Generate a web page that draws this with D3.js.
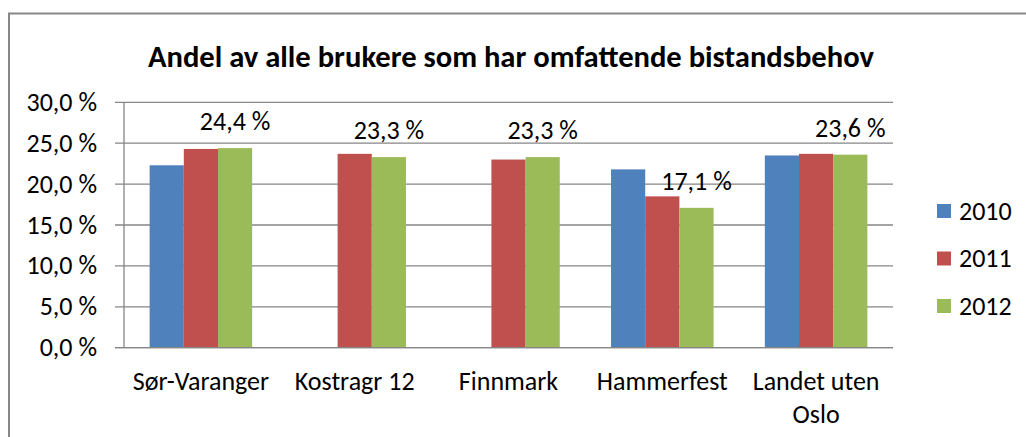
<!DOCTYPE html>
<html>
<head>
<meta charset="utf-8">
<script src="https://cdn.jsdelivr.net/npm/d3@7"></script>
<style>
  html, body { margin: 0; padding: 0; background: #fff; }
  svg { display: block; }
  text { font-family: Carlito, Lato, "Open Sans", sans-serif; fill: #000; }
</style>
</head>
<body>
<svg id="chart" width="1026" height="437"></svg>
<script>
// Chart data
const title = "Andel av alle brukere som har omfattende bistandsbehov";
const categories = [["Sør-Varanger"], ["Kostragr 12"], ["Finnmark"], ["Hammerfest"], ["Landet uten", "Oslo"]];
const years = ["2010", "2011", "2012"];
const values2010 = [22.3, null, null, 21.8, 23.5];
const values2011 = [24.3, 23.7, 23.0, 18.5, 23.7];
const values2012 = [24.4, 23.3, 23.3, 17.1, 23.6];
const yTicks = [0, 5, 10, 15, 20, 25, 30];
const colors = ["#4f81bd", "#c0504d", "#9bbb59"];

const series = [values2010, values2011, values2012];
const fmt = v => d3.format(".1f")(v).replace(".", ",") + " %";
const FS = 26;

const svg = d3.select("#chart");

// Outer chart border (continues past the right and bottom edges)
svg.append("path")
  .attr("d", "M9,437 V13.5 H1026")
  .attr("fill", "none")
  .attr("stroke", "#878787")
  .attr("stroke-width", 2);

// Title
svg.append("text")
  .attr("x", 511).attr("y", 67)
  .attr("text-anchor", "middle")
  .attr("font-weight", "bold")
  .attr("font-size", 30.6)
  .text(title);

const plot = { left: 124, right: 893, top: 102.3, bottom: 347.7 };

// Category slots; bars use a 150% gap width (group of 3 bars + 1.5 bar gap)
const x0 = d3.scaleBand()
  .domain(d3.range(categories.length))
  .range([plot.left, plot.right])
  .padding(0);
const step = x0.bandwidth();
const barW = step / 4.5;
const x1 = d3.scaleBand()
  .domain(d3.range(years.length))
  .range([barW * 0.75, barW * 3.75]);

const y = d3.scaleLinear().domain([0, 30]).range([plot.bottom, plot.top]);

// Gridlines with short tick stubs left of the axis
svg.append("g")
  .selectAll("line")
  .data(yTicks)
  .join("line")
  .attr("x1", plot.left - 9).attr("x2", plot.right)
  .attr("y1", d => y(d)).attr("y2", d => y(d))
  .attr("stroke", "#868686")
  .attr("stroke-width", 1.3);

// Y axis line
svg.append("line")
  .attr("x1", plot.left).attr("x2", plot.left)
  .attr("y1", plot.top).attr("y2", plot.bottom)
  .attr("stroke", "#868686")
  .attr("stroke-width", 1.3);

// Y tick labels
svg.append("g")
  .selectAll("text")
  .data(yTicks)
  .join("text")
  .attr("x", 97).attr("y", d => y(d))
  .attr("dy", "0.33em")
  .attr("text-anchor", "end")
  .attr("font-size", FS)
  .text(d => fmt(d));

// Bars
series.forEach((vals, s) => {
  svg.append("g")
    .selectAll("rect")
    .data(vals.map((v, i) => ({ v, i })).filter(d => d.v != null))
    .join("rect")
    .attr("x", d => x0(d.i) + x1(s))
    .attr("width", x1.bandwidth())
    .attr("y", d => y(d.v))
    .attr("height", d => y(0) - y(d.v))
    .attr("fill", colors[s]);
});

// Data labels on the 2012 series
svg.append("g")
  .selectAll("text")
  .data(values2012.map((v, i) => ({ v, i })))
  .join("text")
  .attr("x", d => x0(d.i) + x1(2) + x1.bandwidth() / 2)
  .attr("y", d => y(d.v) - 18)
  .attr("text-anchor", "middle")
  .attr("font-size", FS)
  .text(d => fmt(d.v));

// Bottom axis line
svg.append("line")
  .attr("x1", plot.left - 9).attr("x2", plot.right)
  .attr("y1", plot.bottom).attr("y2", plot.bottom)
  .attr("stroke", "#868686")
  .attr("stroke-width", 1.3);

// Category labels
const catG = svg.append("g");
categories.forEach((lines, i) => {
  const cx = x0(i) + step / 2;
  const t = catG.append("text")
    .attr("x", cx)
    .attr("y", 390)
    .attr("text-anchor", "middle")
    .attr("font-size", FS);
  lines.forEach((ln, k) => {
    t.append("tspan")
      .attr("x", cx)
      .attr("dy", k === 0 ? 0 : 33)
      .text(ln);
  });
});

// Legend
const legend = svg.append("g");
years.forEach((yr, s) => {
  const cy = 211 + s * 47.5;
  legend.append("rect")
    .attr("x", 937).attr("y", cy - 7)
    .attr("width", 14).attr("height", 14)
    .attr("fill", colors[s]);
  legend.append("text")
    .attr("x", 959).attr("y", cy)
    .attr("dy", "0.33em")
    .attr("font-size", FS)
    .text(yr);
});
</script>
</body>
</html>
